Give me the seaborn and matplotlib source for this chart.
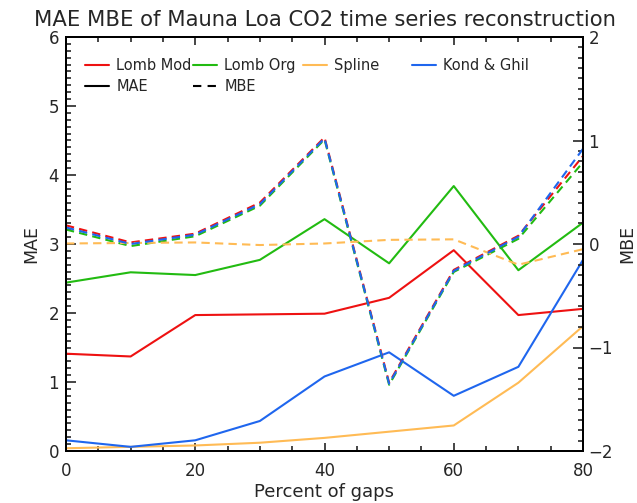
import numpy as np
import pandas as pd
import seaborn as sns
import matplotlib
matplotlib.use("Agg")
import matplotlib.pyplot as plt
from matplotlib.lines import Line2D
from matplotlib.legend import Legend
from matplotlib.ticker import MultipleLocator

# ---- data ----
gaps = [0, 10, 20, 30, 40, 50, 60, 70, 80]
methods = ["Lomb Mod", "Lomb Org", "Spline", "Kond & Ghil"]
mae_lomb_mod = [1.41, 1.37, 1.97, 1.98, 1.99, 2.22, 2.91, 1.97, 2.06]
mae_lomb_org = [2.44, 2.59, 2.55, 2.77, 3.36, 2.72, 3.84, 2.62, 3.31]
mae_spline = [0.04, 0.06, 0.08, 0.12, 0.19, 0.28, 0.37, 0.99, 1.81]
mae_kond = [0.155, 0.06, 0.155, 0.435, 1.08, 1.43, 0.80, 1.22, 2.77]
mbe_lomb_mod = [0.18, 0.015, 0.10, 0.40, 1.03, -1.34, -0.25, 0.08, 0.85]
mbe_lomb_org = [0.14, -0.02, 0.075, 0.37, 1.01, -1.36, -0.27, 0.05, 0.79]
mbe_spline = [0.005, 0.01, 0.015, -0.01, 0.005, 0.04, 0.045, -0.20, -0.05]
mbe_kond = [0.16, 0.00, 0.09, 0.385, 1.02, -1.35, -0.26, 0.07, 0.92]
colors = ["#ee1111", "#22bb11", "#ffbb55", "#1f66ee"]

mae = dict(zip(methods, [mae_lomb_mod, mae_lomb_org, mae_spline, mae_kond]))
mbe = dict(zip(methods, [mbe_lomb_mod, mbe_lomb_org, mbe_spline, mbe_kond]))

df_mae = pd.DataFrame([(g, m, v) for m in methods for g, v in zip(gaps, mae[m])],
                      columns=["gap", "method", "value"])
df_mbe = pd.DataFrame([(g, m, v) for m in methods for g, v in zip(gaps, mbe[m])],
                      columns=["gap", "method", "value"])
palette = dict(zip(methods, colors))

sns.set_style("ticks")
plt.rcParams["font.family"] = ["DejaVu Sans"]
plt.rcParams["axes.linewidth"] = 1.4

fig = plt.figure(figsize=(6.37, 5.03), dpi=100)
ax = fig.add_axes([66 / 637, 1 - 451 / 503, 517 / 637, 414 / 503])
ax2 = ax.twinx()

sns.lineplot(data=df_mae, x="gap", y="value", hue="method", palette=palette,
             hue_order=methods, ax=ax, linewidth=1.5, legend=False)
sns.lineplot(data=df_mbe, x="gap", y="value", hue="method", palette=palette,
             hue_order=methods, ax=ax2, linewidth=1.5, legend=False)
for ln in ax2.get_lines():
    ln.set_dashes((4, 2.5))

ax.set_xlim(0, 80)
ax.set_ylim(0, 6)
ax2.set_ylim(-2, 2)
ax.xaxis.set_major_locator(MultipleLocator(20))
ax.xaxis.set_minor_locator(MultipleLocator(5))
ax.yaxis.set_major_locator(MultipleLocator(1))
ax.yaxis.set_minor_locator(MultipleLocator(0.1))
ax2.yaxis.set_major_locator(MultipleLocator(1))
ax2.yaxis.set_minor_locator(MultipleLocator(0.1))

ax.tick_params(axis="x", which="both", direction="in", top=True, bottom=True,
               labelsize=12, pad=8, width=1.2)
ax.tick_params(axis="x", which="major", length=5.5)
ax.tick_params(axis="x", which="minor", length=3.5)
ax.tick_params(axis="y", which="both", direction="in", left=True, right=False,
               labelsize=12, pad=5, width=1.2)
ax.tick_params(axis="y", which="major", length=7.5)
ax.tick_params(axis="y", which="minor", length=3.5)
ax2.tick_params(axis="y", which="both", direction="in", right=True,
                labelsize=12, pad=4, width=1.2)
ax2.tick_params(axis="y", which="major", length=7.5)
ax2.tick_params(axis="y", which="minor", length=3.5)

ax.set_xlabel("Percent of gaps", fontsize=13, labelpad=2)
ax.set_ylabel("MAE", fontsize=12.5, labelpad=6)
ax2.set_ylabel("MBE", fontsize=12.5, labelpad=4)
ax.set_title("MAE MBE of Mauna Loa CO2 time series reconstruction",
             fontsize=15.2, pad=8)

for spine in list(ax.spines.values()) + list(ax2.spines.values()):
    spine.set_linewidth(1.4)
    spine.set_color("black")

# ---- legend: four columns like the original ----
cols = [
    [(Line2D([], [], color=colors[0], lw=1.5), "Lomb Mod"),
     (Line2D([], [], color="black", lw=1.5), "MAE")],
    [(Line2D([], [], color=colors[1], lw=1.5), "Lomb Org"),
     (Line2D([], [], color="black", lw=1.5, dashes=(4, 3)), "MBE")],
    [(Line2D([], [], color=colors[2], lw=1.5), "Spline")],
    [(Line2D([], [], color=colors[3], lw=1.5), "Kond & Ghil")],
]
xs = [0.037, 0.2456, 0.458, 0.669]
for x0, col in zip(xs, cols):
    leg = Legend(ax2, [h for h, _ in col], [t for _, t in col], loc="upper left",
                 bbox_to_anchor=(x0, 0.95), frameon=False, fontsize=10.5,
                 handlelength=1.65, handletextpad=0.5, borderpad=0,
                 borderaxespad=0, labelspacing=0.45)
    ax2.add_artist(leg)

fig.savefig("out.png", dpi=100)
